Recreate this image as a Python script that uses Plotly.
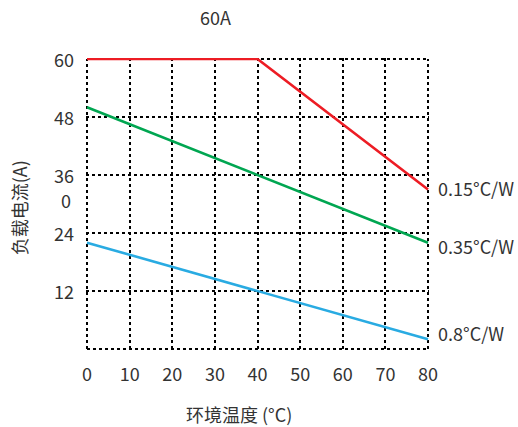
import plotly.graph_objects as go

# Data
temp_red = [0, 40, 80]
load_red = [60, 60, 33]
temp_green = [0, 80]
load_green = [50, 22]
temp_blue = [0, 80]
load_blue = [22, 2]

series_labels = ["0.15°C/W", "0.35°C/W", "0.8°C/W"]
label_y = [33.3, 21.3, 3.4]
colors = ["#ed1c24", "#00a651", "#29abe2"]

x_ticks = [0, 10, 20, 30, 40, 50, 60, 70, 80]
y_ticks = [0, 12, 24, 36, 48, 60]
y_ticktext = ["", "12", "24", "36", "48", "60"]
stray_label = "0"      # stray wrapped character shown under the "36" tick
stray_at = 36

title_text = "60A"
x_title = "环境温度 (°C)"
y_title = "负载电流(A)"

FONT = "Noto Sans CJK SC"
TXT = "#333333"
FS = 18

fig = go.Figure()

# dotted frame on the outer grid values (plotly hides gridlines at plot edges)
xmin, xmax = min(x_ticks), max(x_ticks)
ymin, ymax = min(y_ticks), max(y_ticks)
for x0, y0, x1, y1 in [(xmin, ymin, xmin, ymax), (xmax, ymin, xmax, ymax),
                       (xmin, ymin, xmax, ymin), (xmin, ymax, xmax, ymax)]:
    fig.add_shape(type="line", xref="x", yref="y", x0=x0, y0=y0, x1=x1, y1=y1,
                  layer="below", line=dict(color="black", width=2, dash="dot"))

for xs, ys, c in [(temp_red, load_red, colors[0]),
                  (temp_green, load_green, colors[1]),
                  (temp_blue, load_blue, colors[2])]:
    fig.add_trace(go.Scatter(x=xs, y=ys, mode="lines",
                             line=dict(color=c, width=2.6),
                             showlegend=False, cliponaxis=False))

for t, yv in zip(series_labels, label_y):
    fig.add_annotation(x=80, y=yv, xref="x", yref="y", text=t,
                       showarrow=False, xanchor="left", yanchor="middle",
                       xshift=8, font=dict(family=FONT, size=FS, color=TXT))

fig.add_annotation(x=0, y=stray_at, xref="x", yref="y", text=stray_label,
                   showarrow=False, xanchor="right", yanchor="middle",
                   xshift=-14, yshift=-25, font=dict(family=FONT, size=FS, color=TXT))

fig.add_annotation(x=0.378, y=1.141, xref="paper", yref="paper", text=title_text,
                   showarrow=False, xanchor="center", yanchor="middle",
                   font=dict(family=FONT, size=FS, color=TXT))
fig.add_annotation(x=0.445, y=-0.22, xref="paper", yref="paper", text=x_title,
                   showarrow=False, xanchor="center", yanchor="middle",
                   font=dict(family=FONT, size=FS, color=TXT))
fig.add_annotation(x=-0.197, y=0.487, xref="paper", yref="paper", text=y_title,
                   showarrow=False, xanchor="center", yanchor="middle", textangle=-90,
                   font=dict(family=FONT, size=FS, color=TXT))

fig.update_xaxes(range=[-0.235, 80.235], tickvals=x_ticks, showgrid=True, gridcolor="black",
                 gridwidth=2, griddash="dot", zeroline=False, showline=False,
                 ticks="", ticklabelstandoff=12,
                 tickfont=dict(family=FONT, size=FS, color=TXT))
fig.update_yaxes(range=[-0.207, 60.207], tickvals=y_ticks, ticktext=y_ticktext,
                 showgrid=True, gridcolor="black",
                 gridwidth=2, griddash="dot", zeroline=False, showline=False,
                 ticks="", ticklabelstandoff=11, ticklabelshift=2,
                 tickfont=dict(family=FONT, size=FS, color=TXT))

fig.update_layout(width=518, height=427, paper_bgcolor="white", plot_bgcolor="white",
                  margin=dict(l=86, r=89, t=58, b=77), showlegend=False)

fig.write_html("out.html", config={"displayModeBar": False},
               post_script="document.body.style.margin='0';document.body.style.overflow='hidden';")
